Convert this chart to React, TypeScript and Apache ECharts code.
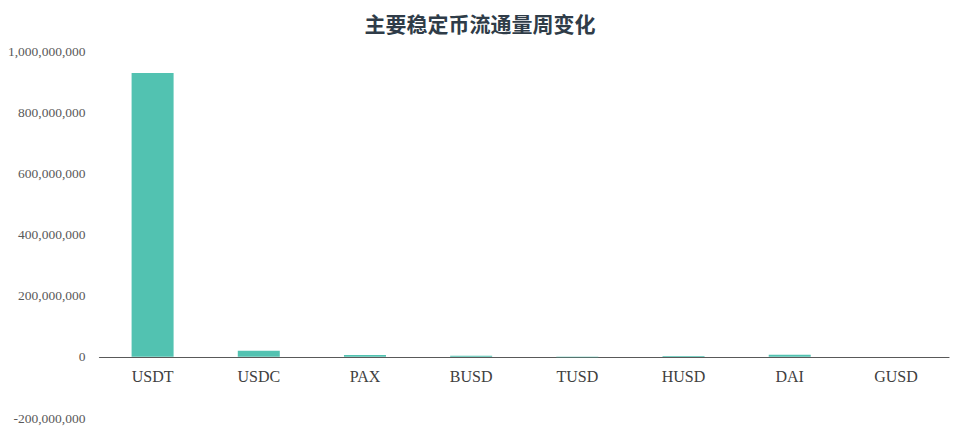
import React, { useEffect, useRef } from "react";
import * as echarts from "echarts";

const categories = ["USDT", "USDC", "PAX", "BUSD", "TUSD", "HUSD", "DAI", "GUSD"];
const changes = [928000000, 20000000, 6000000, 3500000, -1500000, 2500000, 7000000, 500000];
const titleText = "主要稳定币流通量周变化";
const yMin = -200000000;
const yMax = 1000000000;

export default function App() {
  const ref = useRef<HTMLDivElement>(null);
  useEffect(() => {
    if (!ref.current) return;
    const chart = echarts.init(ref.current, undefined, { renderer: "svg" });
    const gridTop = 51;
    const gridBottom = 13;
    const height = 431;
    const plotH = height - gridTop - gridBottom;
    const zeroOffset = (plotH * (0 - yMin)) / (yMax - yMin);
    chart.setOption({
      animation: false,
      title: {
        text: titleText,
        left: "center",
        top: 7,
        textStyle: {
          fontFamily: "Noto Sans CJK SC",
          fontSize: 21,
          fontWeight: "bold",
          color: "#2f3c48",
        },
      },
      grid: {
        left: 99.5,
        right: 11,
        top: gridTop,
        bottom: gridBottom,
        containLabel: false,
        outerBoundsMode: "none",
      },
      xAxis: {
        type: "category",
        data: categories,
        position: "bottom",
        offset: -zeroOffset,
        axisLine: { onZero: false, lineStyle: { color: "#595959", width: 1.2 } },
        axisTick: { show: false },
        axisLabel: {
          fontFamily: "Liberation Serif",
          fontSize: 16,
          color: "#404040",
          margin: 12,
        },
      },
      yAxis: {
        type: "value",
        min: yMin,
        max: yMax,
        interval: 200000000,
        axisLine: { show: false },
        axisTick: { show: false },
        splitLine: { show: false },
        axisLabel: {
          fontFamily: "Liberation Serif",
          fontSize: 13.5,
          color: "#595959",
          margin: 14,
          formatter: (v: number) => v.toLocaleString("en-US"),
        },
      },
      series: [
        {
          type: "bar",
          data: changes,
          barWidth: 42,
          itemStyle: { color: "#52c2b1" },
        },
      ],
    });
    return () => chart.dispose();
  }, []);
  return (
    <div
      ref={ref}
      style={{ width: 960, height: 431, marginLeft: -8, marginTop: -8 }}
    />
  );
}
